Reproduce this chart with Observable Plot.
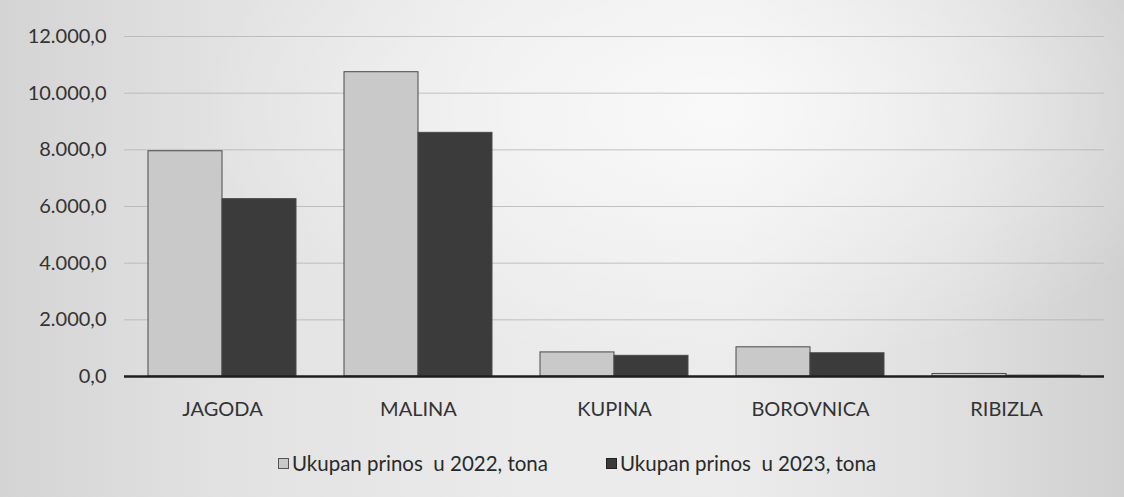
<!DOCTYPE html>
<html>
<head>
<meta charset="utf-8">
<script src="https://cdn.jsdelivr.net/npm/d3@7"></script>
<script src="https://cdn.jsdelivr.net/npm/@observablehq/plot@0.6"></script>
<style>
  html, body { margin: 0; padding: 0; }
  body {
    width: 1124px; height: 497px; overflow: hidden;
    background:
      radial-gradient(ellipse 520px 260px at 720px 110px, rgba(255,255,255,0.7), rgba(255,255,255,0) 100%),
      linear-gradient(90deg, #d4d4d4 0%, #e2e2e2 20%, #eaeaea 45%, #ececec 65%, #dfdfdf 85%, #d0d0d0 100%);
    font-family: Lato, "Open Sans", sans-serif;
  }
  #chart { position: absolute; left: 0; top: 0; }
  #legend {
    position: absolute; left: 0; width: 1124px; top: 451px;
    display: flex; justify-content: center; gap: 58px;
    font-size: 20.5px; color: #2a2a2a; white-space: pre;
    padding-left: 30px; box-sizing: border-box;
  }
  .item { display: flex; align-items: center; }
  .sw { width: 11px; height: 11px; margin-right: 3px; box-sizing: border-box; border: 1px solid #555; }
</style>
</head>
<body>
<div id="chart"></div>
<div id="legend"></div>
<script>
const categories = ["JAGODA", "MALINA", "KUPINA", "BOROVNICA", "RIBIZLA"];
const series = ["Ukupan prinos  u 2022, tona", "Ukupan prinos  u 2023, tona"];
const values2022 = [7950, 10740, 850, 1030, 90];
const values2023 = [6260, 8600, 730, 820, 30];
const yTicks = [0, 2000, 4000, 6000, 8000, 10000, 12000];
const colors = ["#c9c9c9", "#3b3b3b"];

const data = [];
categories.forEach((c, i) => {
  data.push({cat: c, s: series[0], v: values2022[i]});
  data.push({cat: c, s: series[1], v: values2023[i]});
});

const loc = d3.formatLocale({decimal: ",", thousands: ".", grouping: [3], currency: ["", ""]});
const fmt = loc.format(",.1f");

const chart = Plot.plot({
  width: 1124,
  height: 430,
  marginLeft: 124,
  marginRight: 20,
  marginTop: 36,
  marginBottom: 54,
  style: {background: "transparent", fontFamily: "Lato, 'Open Sans', sans-serif", color: "#333"},
  fx: {domain: categories, padding: 0, label: null, axis: "bottom", tickSize: 0, tickPadding: 25},
  x: {domain: series, paddingInner: 0, paddingOuter: 0.32, axis: null},
  y: {domain: [0, 12000], ticks: yTicks, tickFormat: fmt, label: null, tickSize: 0, tickPadding: 18, grid: false},
  color: {domain: series, range: colors},
  marks: [
    Plot.ruleY(yTicks.filter(d => d > 0), {stroke: "#b0b0b0", strokeWidth: 1, strokeOpacity: 0.75}),
    Plot.barY(data, {fx: "cat", x: "s", y: "v", fill: "s", stroke: "#4a4a4a", strokeWidth: 1}),
    Plot.ruleY([0], {stroke: "#1e1e1e", strokeWidth: 2.5})
  ]
});
chart.querySelectorAll("text").forEach(t => t.setAttribute("font-size", "20"));
document.getElementById("chart").appendChild(chart);

const legend = document.getElementById("legend");
series.forEach((s, i) => {
  const item = document.createElement("div");
  item.className = "item";
  const sw = document.createElement("span");
  sw.className = "sw";
  sw.style.background = colors[i];
  if (i === 1) sw.style.borderColor = "#222";
  const tx = document.createElement("span");
  tx.textContent = s;
  item.appendChild(sw);
  item.appendChild(tx);
  legend.appendChild(item);
});
</script>
</body>
</html>
